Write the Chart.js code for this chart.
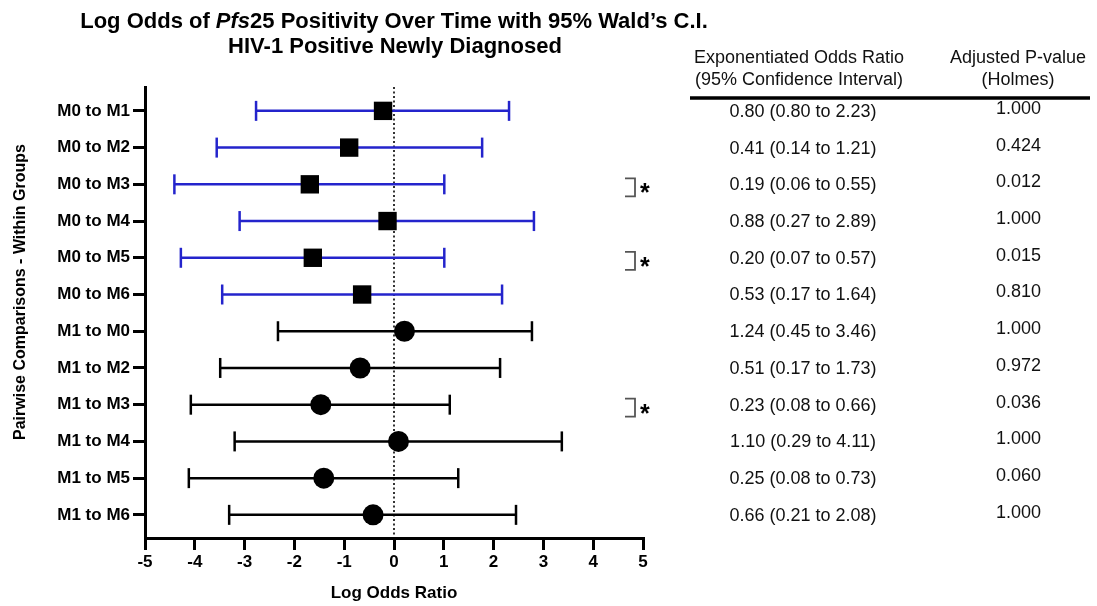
<!DOCTYPE html>
<html><head><meta charset="utf-8">
<script src="https://cdn.jsdelivr.net/npm/chart.js@4.4.1/dist/chart.umd.min.js"></script>
<style>html,body{margin:0;padding:0;background:#fff;}#wrap{width:1097px;height:606px;position:relative;}</style>
</head><body><div id="wrap"><canvas id="c" width="1097" height="606"></canvas></div>
<script>
// ---- data ----
const categories = ['M0 to M1','M0 to M2','M0 to M3','M0 to M4','M0 to M5','M0 to M6',
                    'M1 to M0','M1 to M2','M1 to M3','M1 to M4','M1 to M5','M1 to M6'];
const logOdds  = [-0.22, -0.90, -1.69, -0.13, -1.63, -0.64, 0.21, -0.68, -1.47, 0.09, -1.41, -0.42];
const ciLower  = [-2.77, -3.56, -4.41, -3.10, -4.28, -3.45, -2.33, -3.49, -4.08, -3.20, -4.12, -3.31];
const ciUpper  = [ 2.31,  1.77,  1.01,  2.81,  1.01,  2.17,  2.77,  2.13,  1.12,  3.37,  1.29,  2.45];
const orLabels = ['0.80 (0.80 to 2.23)','0.41 (0.14 to 1.21)','0.19 (0.06 to 0.55)','0.88 (0.27 to 2.89)',
                  '0.20 (0.07 to 0.57)','0.53 (0.17 to 1.64)','1.24 (0.45 to 3.46)','0.51 (0.17 to 1.73)',
                  '0.23 (0.08 to 0.66)','1.10 (0.29 to 4.11)','0.25 (0.08 to 0.73)','0.66 (0.21 to 2.08)'];
const pLabels  = ['1.000','0.424','0.012','1.000','0.015','0.810','1.000','0.972','0.036','1.000','0.060','1.000'];
const sigRows  = [2, 4, 8];
const xMin = -5, xMax = 5;

// ---- build ----
const FONT = '"Liberation Sans", Arial, Helvetica, sans-serif';
Chart.defaults.font.family = FONT;
Chart.defaults.color = '#000';
const BLUE = '#2424cc';
const isM0 = c => c.startsWith('M0');
const rows = categories.map((c, i) => i);

function ciData(pred) {
  const d = [];
  rows.filter(i => pred(categories[i])).forEach(i => {
    d.push({x: ciLower[i], y: i}, {x: ciUpper[i], y: i}, {x: ciUpper[i], y: null});
  });
  return d;
}
function ptData(pred) {
  return rows.filter(i => pred(categories[i])).map(i => ({x: logOdds[i], y: i}));
}
const yMin = -0.65, yMax = 11.63;

const textPlugin = {
  id: 'texts',
  afterDraw(chart) {
    const ctx = chart.ctx, ys = chart.scales.y;
    ctx.save();
    ctx.fillStyle = '#000';
    ctx.textBaseline = 'middle';
    // Title line 1 with italic segment
    const segs = [['bold', 'Log Odds of '], ['italic bold', 'Pfs'], ['bold', '25 Positivity Over Time with 95% Wald\u2019s C.I.']];
    const size = 22;
    let total = 0;
    segs.forEach(s => { ctx.font = s[0] + ' ' + size + 'px ' + FONT; total += ctx.measureText(s[1]).width; });
    let x = 394 - total / 2;
    ctx.textAlign = 'left';
    segs.forEach(s => { ctx.font = s[0] + ' ' + size + 'px ' + FONT; ctx.fillText(s[1], x, 22); x += ctx.measureText(s[1]).width; });
    ctx.textAlign = 'center';
    ctx.font = 'bold ' + size + 'px ' + FONT;
    ctx.fillText('HIV-1 Positive Newly Diagnosed', 395, 47);
    // y title
    ctx.save();
    ctx.translate(21, 292);
    ctx.rotate(-Math.PI / 2);
    ctx.font = 'bold 16px ' + FONT;
    ctx.fillText('Pairwise Comparisons - Within Groups', 0, 0);
    ctx.restore();
    // table header
    ctx.fillStyle = '#111';
    ctx.font = '18px ' + FONT;
    ctx.fillText('Exponentiated Odds Ratio', 799, 58);
    ctx.fillText('(95% Confidence Interval)', 799, 80);
    ctx.fillText('Adjusted P-value', 1018, 58);
    ctx.fillText('(Holmes)', 1018, 80);
    ctx.strokeStyle = '#000';
    ctx.lineWidth = 3.5;
    ctx.beginPath(); ctx.moveTo(690, 98); ctx.lineTo(1090, 98); ctx.stroke();
    // table rows
    rows.forEach(i => {
      const y = ys.getPixelForValue(i);
      ctx.textAlign = 'center';
      ctx.fillText(orLabels[i], 803, y + 1);
      ctx.textAlign = 'right';
      ctx.fillText(pLabels[i], 1041, y - 2);
    });
    // significance brackets
    ctx.strokeStyle = '#555';
    ctx.lineWidth = 1.8;
    sigRows.forEach(i => {
      const y = ys.getPixelForValue(i) + 3;
      ctx.beginPath();
      ctx.moveTo(625, y - 9); ctx.lineTo(635, y - 9); ctx.lineTo(635, y + 9); ctx.lineTo(625, y + 9);
      ctx.stroke();
      ctx.fillStyle = '#000';
      ctx.font = 'bold 25px ' + FONT;
      ctx.textAlign = 'left';
      ctx.textBaseline = 'alphabetic';
      ctx.fillText('*', 640, y + 14);
      ctx.textBaseline = 'middle';
    });
    ctx.restore();
  }
};

new Chart(document.getElementById('c'), {
  type: 'scatter',
  data: {
    datasets: [
      {label: 'M0 estimates', data: ptData(isM0), pointStyle: 'rect', pointRadius: 13,
       backgroundColor: '#000', borderColor: '#000', borderWidth: 0, order: 0},
      {label: 'M1 estimates', data: ptData(c => !isM0(c)), pointStyle: 'circle', pointRadius: 10.5,
       backgroundColor: '#000', borderColor: '#000', borderWidth: 0, order: 0},
      {label: 'M0 CI', data: ciData(isM0), showLine: true, spanGaps: false, pointStyle: 'line',
       rotation: 90, pointRadius: 10, borderColor: BLUE, backgroundColor: BLUE, borderWidth: 2.5,
       pointBorderWidth: 2.5, order: 1},
      {label: 'M1 CI', data: ciData(c => !isM0(c)), showLine: true, spanGaps: false, pointStyle: 'line',
       rotation: 90, pointRadius: 10, borderColor: '#000', backgroundColor: '#000', borderWidth: 2.5,
       pointBorderWidth: 2.5, order: 1},
      {label: 'zero', data: [{x: 0, y: yMin}, {x: 0, y: yMax}], showLine: true, pointRadius: 0,
       borderColor: '#000', borderWidth: 1.6, borderDash: [2, 2.5], order: 2}
    ]
  },
  options: {
    responsive: false, animation: false, devicePixelRatio: 1, events: [],
    layout: {padding: {top: 87, right: 454, bottom: 0, left: 0}},
    plugins: {legend: {display: false}, tooltip: {enabled: false}, title: {display: false}},
    scales: {
      x: {
        type: 'linear', min: xMin, max: xMax,
        ticks: {stepSize: 1, font: {size: 17, weight: 'bold'}, color: '#000', padding: 2},
        grid: {drawOnChartArea: false, drawTicks: true, tickLength: 12, lineWidth: 3, color: '#000'},
        border: {display: true, color: '#000', width: 3},
        title: {display: true, text: 'Log Odds Ratio', font: {size: 17, weight: 'bold'}, color: '#000',
                padding: {top: 0, bottom: 2}},
        afterFit: s => { s.height = 68; }
      },
      y: {
        type: 'linear', reverse: true, min: yMin, max: yMax,
        afterBuildTicks: s => { s.ticks = rows.map(i => ({value: i})); },
        ticks: {autoSkip: false, callback: v => categories[v], font: {size: 17, weight: 'bold'}, color: '#000', padding: 3},
        grid: {drawOnChartArea: false, drawTicks: true, tickLength: 12, lineWidth: 3, color: '#000'},
        border: {display: true, color: '#000', width: 3},
        afterFit: s => { s.width = 145; }
      }
    }
  },
  plugins: [textPlugin]
});
</script></body></html>
